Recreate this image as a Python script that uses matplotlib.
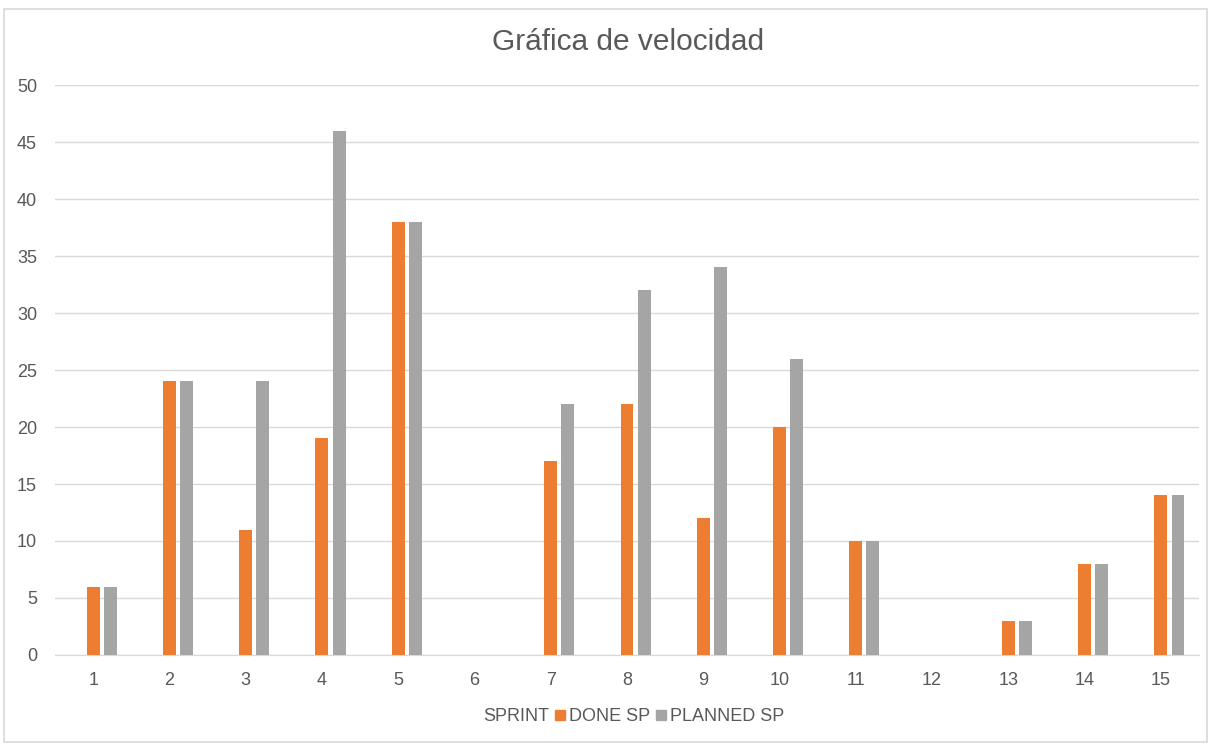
import matplotlib.pyplot as plt
import numpy as np
from matplotlib.patches import Rectangle, Patch

sprints = [str(i) for i in range(1, 16)]
done_sp = [6, 24, 11, 19, 38, 0, 17, 22, 12, 20, 10, 0, 3, 8, 14]
planned_sp = [6, 24, 24, 46, 38, 0, 22, 32, 34, 26, 10, 0, 3, 8, 14]

orange = "#ED7D31"
gray = "#A5A5A5"
text_c = "#595959"

plt.rcParams['font.family'] = ['Liberation Sans', 'DejaVu Sans']

fig = plt.figure(figsize=(12.15, 7.46), dpi=100)
ax = fig.add_axes([0.0453, 0.122, 0.9415, 0.764])

x = np.arange(len(sprints))
w = 0.17
# the SPRINT series sits in the first slot of each group but has no visible bars
ax.bar(x, done_sp, w, color=orange, zorder=3)
ax.bar(x + 0.225, planned_sp, w, color=gray, zorder=3)

ax.set_xlim(-0.5, len(sprints) - 0.5)
ax.set_ylim(0, 50)
ax.set_yticks(np.arange(0, 51, 5))
ax.set_xticks(x)
ax.set_xticklabels(sprints)
ax.yaxis.grid(True, color="#D9D9D9", linewidth=1, zorder=0)
for s in ["top", "right", "left"]:
    ax.spines[s].set_visible(False)
ax.spines["bottom"].set_color("#D9D9D9")
ax.tick_params(axis="both", length=0, labelsize=13, colors=text_c)
ax.tick_params(axis="x", pad=12)
ax.tick_params(axis="y", pad=13)

fig.text(0.517, 0.944, "Gráfica de velocidad", ha="center", va="center",
         fontsize=21.5, color=text_c)

handles = [Patch(facecolor="none", edgecolor="none", label="SPRINT"),
           Patch(color=orange, label="DONE SP"),
           Patch(color=gray, label="PLANNED SP")]
fig.legend(handles=handles, loc="center", bbox_to_anchor=(0.516, 0.039), ncol=3,
           frameon=False, fontsize=13, labelcolor=text_c, handlelength=0.55,
           handleheight=0.55, handletextpad=0.25, columnspacing=0.3)

fig.patches.append(Rectangle((0.0033, 0.006), 0.9901, 0.982, transform=fig.transFigure,
                             fill=False, edgecolor="#D9D9D9", linewidth=1.2))

fig.savefig("out.png", dpi=100)
